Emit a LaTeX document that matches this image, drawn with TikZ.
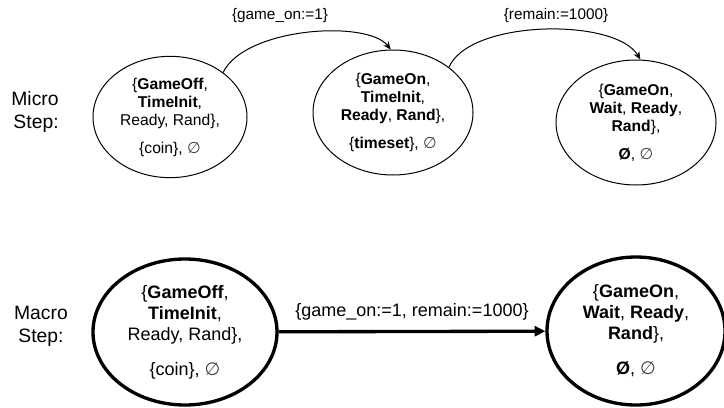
\documentclass[tikz,border=0pt]{standalone}
\usepackage{fontspec}
\setmainfont{Liberation Sans}
\newfontfamily\symfont{DejaVu Sans}
\usetikzlibrary{arrows.meta,shapes.geometric}
\newcommand{\nullset}{{\symfont\color{black!75}∅}}
\begin{document}
\begin{tikzpicture}[x=0.75pt,y=-0.75pt,
  micro/.style={draw, ellipse, line width=0.75pt, inner sep=0pt, align=center,
    font=\fontsize{11.75}{13.5}\selectfont},
  macro/.style={draw, ellipse, line width=2.5pt, inner sep=0pt, align=center,
    font=\fontsize{13.5}{15.75}\selectfont},
  microlab/.style={inner sep=0pt, font=\fontsize{11.5}{13.5}\selectfont},
  macrolab/.style={inner sep=0pt, font=\fontsize{13.5}{15.75}\selectfont},
  sidelab/.style={inner sep=0pt, font=\fontsize{14.5}{17.25}\selectfont},
  microarrow/.style={line width=0.75pt, -{Stealth[length=6pt,width=5pt]}},
  macroarrow/.style={line width=2.5pt, -{Triangle[length=8pt,width=7.5pt]}}]
\useasboundingbox (0,0) rectangle (724,407);

% side labels
\node[sidelab, align=right] (microlbl) at (35,112) {Micro\\Step:};
\node[sidelab, align=center] (macrolbl) at (41,326) {Macro\\Step:};

% micro step states
\node[micro, minimum width=115.5pt, minimum height=91pt] (n1) at (170,117)
  {\{\textbf{GameOff},\\ \textbf{TimeInit},\\ Ready, Rand\},\\[7.5pt] \{coin\}, \nullset};
\node[micro, minimum width=120pt, minimum height=93.75pt] (n2) at (393,112.5)
  {\{\textbf{GameOn},\\ \textbf{TimeInit},\\ \textbf{Ready}, \textbf{Rand}\},\\[7.5pt] \{\textbf{timeset}\}, \nullset};
\node[micro, minimum width=120pt, minimum height=93.75pt] (n3) at (636,122.5)
  {\{\textbf{GameOn},\\ \textbf{Wait}, \textbf{Ready},\\ \textbf{Rand}\},\\[7.5pt] \textbf{Ø}, \nullset};

\draw[microarrow] (n1.40) .. controls +(22,-45) and +(-24,-30) .. (n2.92);
\draw[microarrow] (n2.39) .. controls +(21,-48) and +(-25,-42) .. (n3.86);
\node[microlab] (l1) at (280,16) {\{game\_on:=1\}};
\node[microlab] (l2) at (556,16) {\{remain:=1000\}};

% macro step states
\node[macro, minimum width=138pt, minimum height=109.5pt] (n4) at (185,332)
  {\{\textbf{GameOff},\\ \textbf{TimeInit},\\ Ready, Rand\},\\[10.5pt] \{coin\}, \nullset};
\node[macro, minimum width=133.5pt, minimum height=111pt] (n5) at (636,331)
  {\{\textbf{GameOn},\\ \textbf{Wait}, \textbf{Ready},\\ \textbf{Rand}\},\\[10.5pt] \textbf{Ø}, \nullset};

\draw[macroarrow] (n4) -- (n5);
\node[macrolab] (l3) at (412,312) {\{game\_on:=1, remain:=1000\}};
\end{tikzpicture}
\end{document}
